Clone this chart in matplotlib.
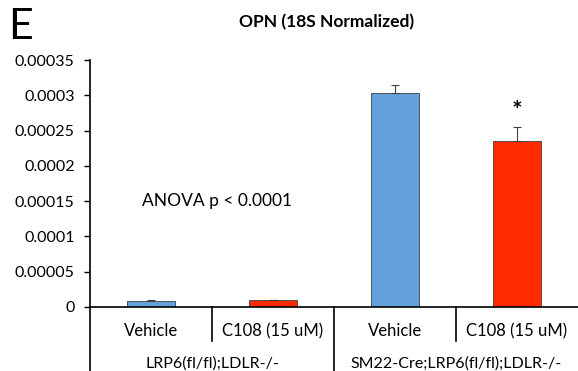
import numpy as np
import matplotlib
matplotlib.use("Agg")
import matplotlib.pyplot as plt

# data
treatments = ["Vehicle", "C108 (15 uM)", "Vehicle", "C108 (15 uM)"]
genotypes = ["LRP6(fl/fl);LDLR-/-", "SM22-Cre;LRP6(fl/fl);LDLR-/-"]
opn = [0.0000085, 0.0000095, 0.000303, 0.0002355]
opn_err = [0.0000008, 0.0000004, 0.000012, 0.0000195]
bar_colors = ["#64a0dc", "#ff2a00", "#64a0dc", "#ff2a00"]
yticks = [0, 0.00005, 0.0001, 0.00015, 0.0002, 0.00025, 0.0003, 0.00035]
ytick_labels = ["0", "0.00005", "0.0001", "0.00015", "0.0002", "0.00025", "0.0003", "0.00035"]

plt.rcParams['font.family'] = ['Lato', 'DejaVu Sans']

W, H = 578, 371
fig = plt.figure(figsize=(W/100, H/100), dpi=100)
ax = fig.add_axes([90/W, 64/H, 488/W, 247/H])

x = np.arange(len(opn))
ax.bar(x, opn, width=0.4, color=bar_colors, edgecolor="#404040", linewidth=0.6, zorder=2)
# upper error bars only
ax.errorbar(x, opn, yerr=[np.zeros(len(opn)), opn_err], fmt="none", ecolor="#404040",
	elinewidth=0.8, capsize=3, capthick=0.8, zorder=3)

ax.set_xlim(-0.5, 3.5)
ax.set_ylim(0, 0.00035)
ax.set_yticks(yticks)
ax.set_yticklabels(ytick_labels, fontsize=11.5)
ax.tick_params(axis="y", direction="out", length=4, width=1, pad=7)
ax.set_xticks([])
for s in ["top", "right"]:
	ax.spines[s].set_visible(False)
ax.spines["left"].set_linewidth(1.2)
ax.spines["bottom"].set_linewidth(1.2)

# category table under the axis
tr = ax.get_xaxis_transform()
ax.plot([-0.5, -0.5], [0, -0.3], transform=tr, color="black", lw=1.2, clip_on=False)
for xs, y_end in [(0.5, -0.138), (1.5, -0.3), (2.5, -0.138)]:
	ax.plot([xs, xs], [0, y_end], transform=tr, color="black", lw=1.2, clip_on=False)
for i, t in enumerate(treatments):
	ax.text(i, -0.097, t, transform=tr, ha="center", va="center", fontsize=12)
for i, g in enumerate(genotypes):
	ax.text(2*i + 0.5, -0.23, g, transform=tr, ha="center", va="center", fontsize=11.5)

ax.text(-0.07, 0.00015, "ANOVA p < 0.0001", ha="left", va="center", fontsize=12.5)
ax.text(3, opn[3] + opn_err[3] + 0.000022, "*", ha="center", va="center",
	fontsize=18, fontweight="bold")

fig.text(327/W, 1 - 22/H, "OPN (18S Normalized)", ha="center", va="center",
	fontsize=12.5, fontweight="bold")
fig.text(8/W, 1 - 27/H, "E", ha="left", va="center", fontsize=31)

fig.savefig("out.png", dpi=100)
